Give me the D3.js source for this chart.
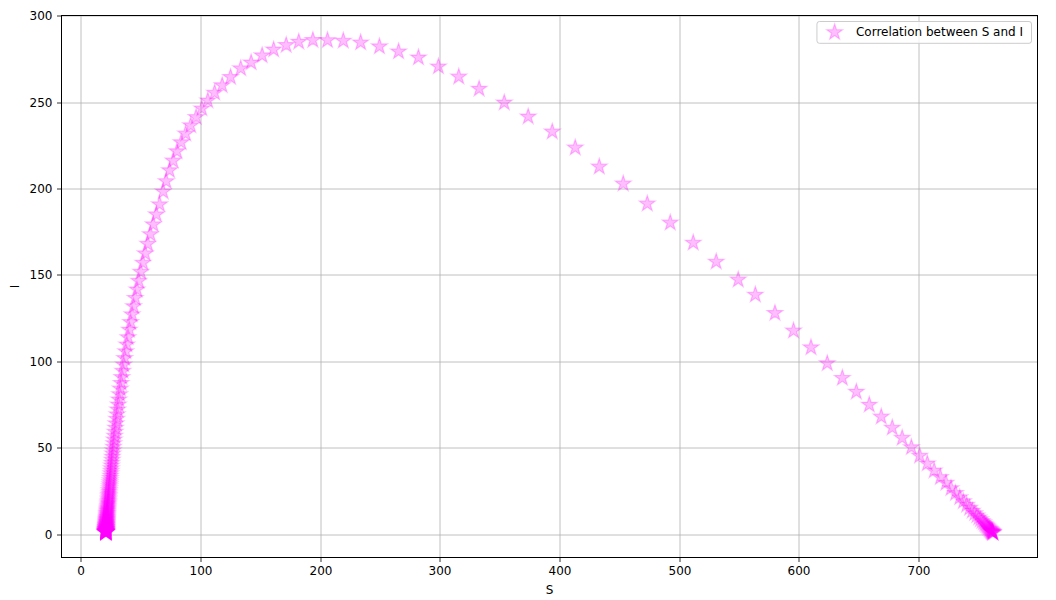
<!DOCTYPE html>
<meta charset="utf-8">
<html>
  <head>
    <style>
      body { margin: 0; background: #fff; }
      text { font-family: "DejaVu Sans", sans-serif; font-size: 12px; fill: #000; }
      .grid line { stroke: #b0b0b0; stroke-width: 0.8px; }
      .axis line { stroke: #000; stroke-width: 0.8px; }
      .spine { fill: none; stroke: #000; stroke-width: 1px; }
    </style>
    <script src="https://d3js.org/d3.v7.min.js"></script>
  </head>
  <body>
    <div id="chart"></div>
    <script type="text/javascript">
      // S values, in time order
      var susceptible = [
        762.0, 761.8, 761.6, 761.4, 761.2, 760.9, 760.6, 760.3, 760.0, 759.5,
        759.1, 758.6, 758.0, 757.3, 756.6, 755.8, 754.9, 753.9, 752.7, 751.4,
        750.0, 748.4, 746.6, 744.6, 742.4, 739.9, 737.1, 734.1, 730.6, 726.8,
        722.6,
        717.9, 712.7, 707.0, 700.6, 693.7, 686.0, 677.7, 668.5, 658.5, 647.7,
        636.0, 623.4, 609.8, 595.2, 579.7, 563.3, 549.0,
        530.6, 511.4, 492.2, 473.0, 452.9, 432.9, 412.8, 393.6, 373.5, 353.5,
        332.5, 315.5, 298.5, 281.8, 265.2, 249.2, 233.5, 219.0, 205.8, 193.6,
        181.8, 171.3, 160.8, 151.2, 142.0, 133.3, 124.8, 117.8, 111.5, 105.8,
        100.8, 96.0, 91.5, 87.3, 83.5, 80.0, 76.8, 73.8, 71.0, 68.5,
        65.5, 62.8, 60.2, 57.8, 55.6, 53.5, 51.6, 49.8, 48.1, 46.6,
        45.1, 43.8, 42.5, 41.3, 40.2, 39.1, 38.1, 37.2, 36.3, 35.5,
        34.8, 34.0, 33.4, 32.7, 32.1, 31.5, 31.0, 30.5, 30.0, 29.6,
        29.1, 28.7, 28.3, 28.0, 27.6, 27.3, 27.0, 26.7, 26.4, 26.1,
        25.9, 25.6, 25.4, 25.2, 25.0, 24.8, 24.6, 24.4, 24.2, 24.0,
        23.9, 23.7, 23.6, 23.4, 23.3, 23.2, 23.1, 23.0, 22.9, 22.8,
        22.7, 22.6, 22.5, 22.4, 22.3, 22.2, 22.1, 22.0, 21.9, 21.9,
        21.8, 21.7, 21.7, 21.6, 21.6, 21.5, 21.5, 21.4, 21.4, 21.3,
        21.3, 21.3, 21.2, 21.2, 21.2, 21.1, 21.1, 21.1, 21.0, 21.0,
        21.0, 21.0, 20.9, 20.9, 20.9, 20.9, 20.9, 20.8, 20.8, 20.8,
        20.8, 20.8, 20.8, 20.7, 20.7, 20.7, 20.7, 20.7, 20.7, 20.7,
        20.7, 20.6, 20.6, 20.6, 20.6, 20.6, 20.6, 20.6, 20.6, 20.6,
        20.6, 20.6, 20.6, 20.6, 20.6, 20.6, 20.6, 20.6, 20.6, 20.6,
        20.6, 20.6, 20.6
      ];

      // I values, same order
      var infected = [
        1.0, 1.1, 1.3, 1.4, 1.6, 1.8, 2.0, 2.2, 2.5, 2.8,
        3.1, 3.5, 3.9, 4.4, 5.0, 5.6, 6.2, 7.0, 7.8, 8.8,
        9.8, 11.0, 12.3, 13.7, 15.4, 17.2, 19.2, 21.5, 24.0, 26.8,
        29.9,
        33.2, 37.0, 41.1, 45.6, 50.5, 55.9, 61.8, 68.2, 75.1, 82.6,
        90.6, 99.1, 108.3, 118.0, 128.2, 138.8, 147.5,
        157.9, 168.9, 180.5, 191.5, 203.1, 212.9, 223.9, 233.2, 241.9, 250.0,
        258.0, 265.0, 270.9, 276.1, 279.6, 282.5, 284.8, 285.8, 286.1, 286.2,
        285.2, 283.3, 280.7, 277.3, 273.2, 269.8, 264.8, 260.0, 255.7, 251.2,
        246.6, 241.6, 236.8, 232.0, 227.0, 221.8, 216.4, 210.8, 204.5, 198.5,
        191.1, 185.3, 179.5, 173.8, 168.2, 162.7, 157.3, 152.0, 146.8, 141.8,
        136.9, 132.1, 127.4, 122.9, 118.5, 114.2, 110.0, 106.0, 102.1, 98.3,
        94.7, 91.1, 87.7, 84.4, 81.2, 78.1, 75.2, 72.3, 69.5, 66.9,
        64.3, 61.8, 59.4, 57.1, 54.9, 52.8, 50.7, 48.7, 46.8, 45.0,
        43.2, 41.5, 39.9, 38.3, 36.8, 35.4, 34.0, 32.7, 31.4, 30.2,
        29.0, 27.9, 26.8, 25.7, 24.7, 23.7, 22.8, 21.9, 21.0, 20.2,
        19.4, 18.6, 17.9, 17.2, 16.5, 15.8, 15.2, 14.6, 14.0, 13.5,
        12.9, 12.4, 11.9, 11.4, 11.0, 10.5, 10.1, 9.7, 9.3, 9.0,
        8.6, 8.3, 7.9, 7.6, 7.3, 7.0, 6.7, 6.5, 6.2, 6.0,
        5.7, 5.5, 5.3, 5.1, 4.9, 4.7, 4.5, 4.3, 4.1, 4.0,
        3.8, 3.7, 3.5, 3.4, 3.2, 3.1, 3.0, 2.9, 2.8, 2.6,
        2.5, 2.4, 2.3, 2.2, 2.1, 2.0, 2.0, 1.9, 1.8, 1.7,
        1.7, 1.6, 1.5, 1.5, 1.4, 1.4, 1.3, 1.3, 1.2, 1.2,
        1.1, 1.1, 1.0
      ];

      var seriesName = "Correlation between S and I";
      var xTicks = [0, 100, 200, 300, 400, 500, 600, 700];
      var yTicks = [0, 50, 100, 150, 200, 250, 300];
      var xTitle = "S", yTitle = "I";

      var margin = { top: 15.5, right: 18.5, bottom: 42.5, left: 61.5 },
          width = 1056 - margin.left - margin.right,
          height = 600 - margin.top - margin.bottom,
          starSize = 77,
          starColor = "rgba(255, 0, 255, 0.25)";

      var n = Math.min(susceptible.length, infected.length);
      var points = [];
      for (var k = 0; k < n; k++) points.push({ s: susceptible[k], i: infected[k] });

      // matplotlib style 5% margins around the data
      function padded(ext) {
        var d = (ext[1] - ext[0]) * 0.05;
        return [ext[0] - d, ext[1] + d];
      }

      var x = d3.scaleLinear()
          .domain(padded(d3.extent(points, function(d) { return d.s; })))
          .range([0, width]);
      var y = d3.scaleLinear()
          .domain(padded(d3.extent(points, function(d) { return d.i; })))
          .range([height, 0]);

      function snap(v) { return Math.round(v - 0.5) + 0.5; }

      var svg = d3.select("#chart").append("svg")
          .attr("width", width + margin.left + margin.right)
          .attr("height", height + margin.top + margin.bottom)
        .append("g")
          .attr("transform", "translate(" + margin.left + "," + margin.top + ")");

      // grid
      var grid = svg.append("g").attr("class", "grid");
      grid.selectAll(".gx").data(xTicks).enter().append("line")
          .attr("x1", function(d) { return snap(x(d)); })
          .attr("x2", function(d) { return snap(x(d)); })
          .attr("y1", 0).attr("y2", height);
      grid.selectAll(".gy").data(yTicks).enter().append("line")
          .attr("y1", function(d) { return snap(y(d)); })
          .attr("y2", function(d) { return snap(y(d)); })
          .attr("x1", 0).attr("x2", width);

      // stars
      var star = d3.symbol().type(d3.symbolStar).size(starSize);
      svg.append("g").selectAll("path")
          .data(points)
          .enter().append("path")
            .attr("d", star)
            .attr("transform", function(d) { return "translate(" + x(d.s) + "," + y(d.i) + ")"; })
            .style("fill", starColor)
            .style("stroke", starColor)
            .style("stroke-width", 1.2);

      // axes
      var xAxis = svg.append("g")
          .attr("class", "axis")
          .attr("transform", "translate(0," + height + ")")
          .call(d3.axisBottom(x).tickValues(xTicks).tickSize(4.5).tickPadding(4.5).tickSizeOuter(0));
      var yAxis = svg.append("g")
          .attr("class", "axis")
          .call(d3.axisLeft(y).tickValues(yTicks).tickSize(4.5).tickPadding(4.5).tickSizeOuter(0));
      svg.selectAll(".axis .domain").remove();
      svg.selectAll(".axis text").attr("font-family", null).attr("font-size", null);
      xAxis.selectAll(".tick").attr("transform", function(d) { return "translate(" + snap(x(d)) + ",0)"; });
      yAxis.selectAll(".tick").attr("transform", function(d) { return "translate(0," + snap(y(d)) + ")"; });

      svg.append("rect")
          .attr("class", "spine")
          .attr("x", 0).attr("y", 0)
          .attr("width", width).attr("height", height);

      svg.append("text")
          .attr("x", width / 2)
          .attr("y", height + 36)
          .style("text-anchor", "middle")
          .text(xTitle);

      svg.append("text")
          .attr("transform", "translate(-43," + (height / 2) + ") rotate(-90)")
          .style("text-anchor", "middle")
          .text(yTitle);

      // legend
      var legend = svg.append("g").attr("class", "legend");
      var legendBox = legend.append("rect");
      var legendText = legend.append("text")
          .attr("y", 20.9)
          .text(seriesName);
      var textW = legendText.node().getComputedTextLength(),
          boxRight = width - 6,
          textStart = boxRight - 8.5 - textW;
      legendText.attr("x", textStart);
      legendBox
          .attr("x", textStart - 39)
          .attr("y", 6)
          .attr("width", boxRight - (textStart - 39))
          .attr("height", 21.8)
          .attr("rx", 2.5)
          .style("fill", "rgba(255,255,255,0.8)")
          .style("stroke", "#cccccc")
          .style("stroke-width", 1);
      legend.append("path")
          .attr("d", star)
          .attr("transform", "translate(" + (textStart - 21.3) + ",16.8)")
          .style("fill", starColor)
          .style("stroke", starColor)
          .style("stroke-width", 1.2);
    </script>
  </body>
</html>
